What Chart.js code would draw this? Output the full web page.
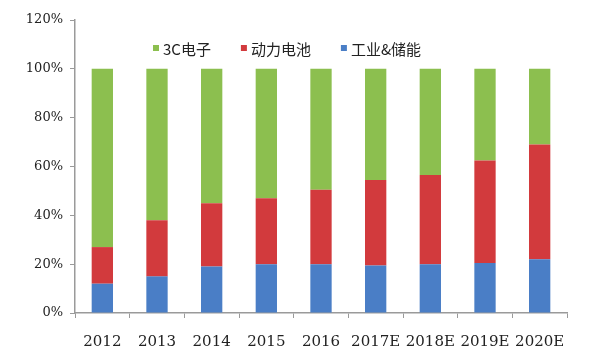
<!DOCTYPE html>
<html>
<head>
<meta charset="utf-8">
<script src="https://cdn.jsdelivr.net/npm/chart.js@4/dist/chart.umd.min.js"></script>
<style>
  html, body { margin: 0; padding: 0; background: #fff; }
  #wrap { width: 594px; height: 353px; position: relative; }
</style>
</head>
<body>
<div id="wrap"><canvas id="chart"></canvas></div>
<script>
// categories
const years = ["2012", "2013", "2014", "2015", "2016", "2017E", "2018E", "2019E", "2020E"];

// share of each segment, %
const industrial = [12, 15, 19, 20, 20, 19.5, 20, 20.5, 22];
const powerBattery = [15, 23, 26, 27, 30.5, 35, 36.5, 42, 47];
const consumer = [73, 62, 55, 53, 49.5, 45.5, 43.5, 37.5, 31];

const yTicks = [0, 20, 40, 60, 80, 100, 120];

const green = "#8cbf4f";
const red = "#d23a3d";
const blue = "#4a7ec6";
const axisGray = "#9a9a9a";

// legend drawn inside the plot, like the original
const innerLegend = {
    id: "innerLegend",
    afterDraw(chart) {
        const ctx = chart.ctx;
        const items = chart.data.datasets.slice().reverse();
        let x = 153;
        const y = 49;
        ctx.save();
        ctx.font = "15px 'Noto Sans CJK SC'";
        ctx.textBaseline = "middle";
        items.forEach(ds => {
            ctx.fillStyle = ds.backgroundColor;
            ctx.fillRect(x, y - 4, 6, 6);
            ctx.fillStyle = "#222";
            ctx.fillText(ds.label, x + 10, y);
            x += 10 + ctx.measureText(ds.label).width + 30;
        });
        ctx.restore();
    }
};

new Chart(document.getElementById("chart"), {
    type: "bar",
    data: {
        labels: years,
        datasets: [
            { label: "工业&储能", data: industrial, backgroundColor: blue },
            { label: "动力电池", data: powerBattery, backgroundColor: red },
            { label: "3C电子", data: consumer, backgroundColor: green }
        ]
    },
    options: {
        responsive: true,
        maintainAspectRatio: false,
        animation: false,
        layout: { padding: { top: 20, right: 27, bottom: 0, left: 0 } },
        datasets: { bar: { barPercentage: 0.39, categoryPercentage: 1 } },
        plugins: {
            legend: { display: false },
            tooltip: { enabled: false }
        },
        scales: {
            x: {
                stacked: true,
                afterFit: axis => { axis.height = 40; },
                grid: {
                    offset: true,
                    drawOnChartArea: false,
                    drawTicks: true,
                    tickLength: 5,
                    color: axisGray
                },
                border: { color: axisGray, width: 1.5 },
                ticks: {
                    color: "#222",
                    padding: 15,
                    maxRotation: 0,
                    font: { family: "'DejaVu Serif'", size: 15 }
                }
            },
            y: {
                stacked: true,
                min: 0,
                max: 120,
                afterBuildTicks: axis => { axis.ticks = yTicks.map(v => ({ value: v })); },
                afterFit: axis => { axis.width = 75; },
                grid: {
                    drawOnChartArea: false,
                    drawTicks: true,
                    tickLength: 5,
                    color: axisGray
                },
                border: { color: axisGray, width: 1.5 },
                ticks: {
                    color: "#222",
                    padding: 7,
                    font: { family: "'DejaVu Serif'", size: 13 },
                    callback: v => v + "%"
                }
            }
        }
    },
    plugins: [innerLegend]
});
</script>
</body>
</html>
